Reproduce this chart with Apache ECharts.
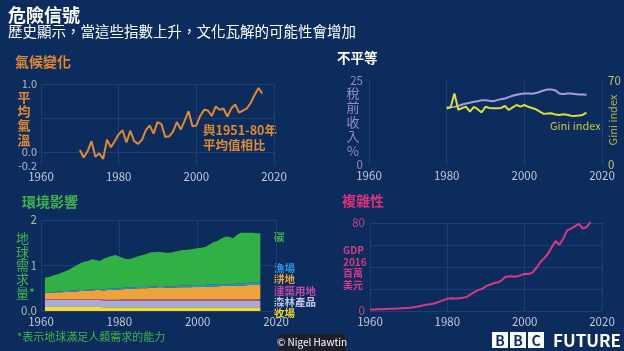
<!DOCTYPE html>
<html>
<head>
<meta charset="utf-8">
<title>危險信號</title>
<script src="https://cdn.jsdelivr.net/npm/echarts@6/dist/echarts.min.js"></script>
<style>
  html, body { margin: 0; padding: 0; background: #0c2c5e; }
  #chart { width: 624px; height: 351px; }
</style>
</head>
<body>
<div id="chart"></div>
<script>
const FONT = '"Noto Sans CJK TC", "Noto Sans", sans-serif'
const GRID_LINE = '#1f3f72'

// 氣候變化：與1951-80年平均值相比的氣溫差（1970-2017）
const climateStart = 1970
const climateAnomaly = [
  0.03, -0.08, 0.01, 0.16, -0.07, -0.02, -0.10, 0.18, 0.07, 0.16,
  0.26, 0.32, 0.14, 0.31, 0.16, 0.12, 0.18, 0.32, 0.39, 0.27,
  0.44, 0.41, 0.22, 0.23, 0.30, 0.44, 0.33, 0.46, 0.60, 0.38,
  0.39, 0.53, 0.62, 0.61, 0.53, 0.67, 0.62, 0.64, 0.52, 0.64,
  0.70, 0.58, 0.61, 0.64, 0.72, 0.84, 0.94, 0.86
]

// 不平等（1980-2016）
const inequalityStart = 1980
const pretaxShare = [
  17.2, 17.2, 17.3, 17.6, 18.0, 18.3, 18.5, 18.8, 19.0, 19.3,
  19.3, 19.1, 19.0, 19.3, 19.6, 19.8, 20.2, 20.6, 20.9, 21.1,
  21.3, 21.3, 21.2, 21.4, 21.8, 22.2, 22.5, 22.5, 22.2, 21.3,
  21.1, 21.3, 21.3, 21.1, 21.0, 21.0, 20.9
]
const giniIndex = [
  47.0, 48.0, 59.5, 46.0, 47.5, 48.5, 44.5, 48.5, 46.5, 43.8,
  48.5, 47.5, 47.3, 47.2, 47.5, 49.2, 45.8, 48.0, 50.0, 48.6,
  50.0, 48.5, 47.5, 46.4, 44.4, 42.6, 43.0, 43.1, 42.0, 41.7,
  42.2, 41.8, 41.0, 40.8, 41.2, 41.7, 43.6
]

// 環境影響：地球需求量（1961-2016），由下往上堆疊
const footprintStart = 1961
const grazing = [
  0.09, 0.09, 0.09, 0.09, 0.09, 0.09, 0.09, 0.09, 0.09, 0.09,
  0.09, 0.09, 0.09, 0.09, 0.09, 0.08, 0.08, 0.08, 0.08, 0.08,
  0.08, 0.08, 0.08, 0.08, 0.08, 0.08, 0.08, 0.08, 0.08, 0.08,
  0.08, 0.08, 0.08, 0.08, 0.08, 0.08, 0.08, 0.08, 0.08, 0.08,
  0.08, 0.08, 0.08, 0.08, 0.08, 0.08, 0.08, 0.08, 0.08, 0.08,
  0.08, 0.08, 0.08, 0.08, 0.08, 0.08
]
const forest = [
  0.15, 0.15, 0.15, 0.15, 0.15, 0.15, 0.15, 0.15, 0.15, 0.15,
  0.15, 0.15, 0.15, 0.15, 0.15, 0.15, 0.15, 0.15, 0.15, 0.15,
  0.15, 0.15, 0.15, 0.15, 0.15, 0.15, 0.15, 0.15, 0.15, 0.15,
  0.15, 0.15, 0.15, 0.15, 0.15, 0.15, 0.15, 0.15, 0.15, 0.15,
  0.15, 0.15, 0.15, 0.15, 0.15, 0.15, 0.15, 0.15, 0.15, 0.15,
  0.15, 0.15, 0.15, 0.15, 0.15, 0.15
]
const builtUp = [
  0.02, 0.02, 0.02, 0.02, 0.02, 0.02, 0.02, 0.02, 0.02, 0.02,
  0.02, 0.02, 0.02, 0.02, 0.02, 0.02, 0.02, 0.02, 0.02, 0.02,
  0.03, 0.03, 0.03, 0.03, 0.03, 0.03, 0.03, 0.03, 0.03, 0.03,
  0.03, 0.03, 0.03, 0.03, 0.03, 0.03, 0.03, 0.03, 0.03, 0.03,
  0.03, 0.03, 0.03, 0.03, 0.03, 0.03, 0.03, 0.03, 0.03, 0.03,
  0.03, 0.03, 0.03, 0.03, 0.03, 0.03
]
const cropland = [
  0.13, 0.14, 0.14, 0.15, 0.15, 0.16, 0.16, 0.17, 0.17, 0.18,
  0.18, 0.19, 0.19, 0.20, 0.20, 0.20, 0.21, 0.21, 0.22, 0.22,
  0.22, 0.23, 0.23, 0.23, 0.24, 0.24, 0.24, 0.25, 0.25, 0.26,
  0.26, 0.25, 0.25, 0.25, 0.26, 0.26, 0.26, 0.26, 0.27, 0.27,
  0.27, 0.27, 0.28, 0.28, 0.28, 0.29, 0.29, 0.29, 0.29, 0.30,
  0.30, 0.30, 0.31, 0.31, 0.31, 0.31
]
const fishing = [
  0.02, 0.02, 0.02, 0.02, 0.02, 0.02, 0.02, 0.02, 0.02, 0.02,
  0.02, 0.02, 0.02, 0.02, 0.02, 0.03, 0.03, 0.03, 0.03, 0.03,
  0.03, 0.03, 0.03, 0.03, 0.03, 0.03, 0.03, 0.03, 0.03, 0.03,
  0.03, 0.03, 0.03, 0.03, 0.03, 0.04, 0.04, 0.04, 0.04, 0.04,
  0.04, 0.04, 0.04, 0.04, 0.04, 0.04, 0.04, 0.04, 0.04, 0.04,
  0.05, 0.05, 0.05, 0.05, 0.05, 0.05
]
const carbon = [
  0.32, 0.33, 0.36, 0.37, 0.40, 0.43, 0.46, 0.50, 0.55, 0.59,
  0.62, 0.63, 0.67, 0.64, 0.62, 0.67, 0.69, 0.72, 0.73, 0.70,
  0.65, 0.62, 0.63, 0.66, 0.68, 0.70, 0.73, 0.75, 0.75, 0.75,
  0.74, 0.74, 0.74, 0.76, 0.77, 0.78, 0.78, 0.79, 0.80, 0.81,
  0.82, 0.84, 0.88, 0.93, 0.96, 1.00, 1.04, 1.04, 1.01, 1.07,
  1.11, 1.11, 1.10, 1.10, 1.09, 1.09
]

// 複雜性：GDP（1960-2017）
const gdpStart = 1960
const gdp = [
  1.37, 1.42, 1.53, 1.64, 1.80, 1.96, 2.13, 2.26, 2.44, 2.69,
  2.96, 3.27, 3.77, 4.59, 5.30, 5.90, 6.42, 7.26, 8.54, 9.93,
  11.2, 11.5, 11.3, 11.6, 12.1, 12.7, 15.1, 17.1, 19.2, 20.0,
  22.6, 23.9, 25.4, 25.9, 27.8, 30.9, 31.6, 31.4, 31.3, 32.6,
  33.8, 33.6, 34.9, 39.1, 44.1, 47.8, 51.8, 58.0, 63.6, 60.3,
  66.0, 73.3, 74.9, 77.2, 79.3, 75.0, 76.1, 80.9
]

const footprintLayers = [
  { name: '牧場', data: grazing, color: '#f3dc2a' },
  { name: '森林產品', data: forest, color: '#aaaad8' },
  { name: '建築用地', data: builtUp, color: '#d4507c' },
  { name: '耕地', data: cropland, color: '#eea23a' },
  { name: '漁場', data: fishing, color: '#2294da' },
  { name: '碳', data: carbon, color: '#31b145' }
]

const toPairs = (start, arr) => arr.map((v, i) => [start + i, v])
// 數值放第一欄，堆疊才會疊在 y 上
const toStackRows = (start, arr) => arr.map((v, i) => [v, start + i])

function yearAxis(gridIndex) {
  return {
    type: 'value',
    gridIndex: gridIndex,
    min: 1960,
    max: 2020,
    interval: 20,
    axisLine: { show: false },
    axisTick: { show: false },
    axisLabel: { color: '#c3c8d4', fontSize: 11.5, margin: 5, fontFamily: FONT, formatter: v => String(v) },
    splitLine: { show: true, lineStyle: { color: GRID_LINE, width: 1 } }
  }
}

function label(text, x, y, color, size, extra) {
  return {
    type: 'text',
    x: x,
    y: y,
    silent: true,
    style: Object.assign({
      text: text,
      fill: color,
      font: size + 'px ' + FONT,
      textAlign: 'left',
      textVerticalAlign: 'middle'
    }, extra || {})
  }
}

const chart = echarts.init(document.getElementById('chart'))

const option = {
  animation: false,
  backgroundColor: '#0c2c5e',
  textStyle: { fontFamily: FONT },
  grid: [
    { left: 41, top: 84, width: 233, height: 81.6 },
    { left: 369, top: 81, width: 233, height: 84 },
    { left: 41, top: 220, width: 235, height: 91 },
    { left: 370, top: 223, width: 232, height: 88 }
  ],
  xAxis: [yearAxis(0), yearAxis(1), yearAxis(2), yearAxis(3)],
  yAxis: [
    {
      type: 'value', gridIndex: 0, min: -0.2, max: 1, interval: 0.1,
      axisLine: { show: false }, axisTick: { show: false },
      axisLabel: {
        color: '#b4b9c6', fontSize: 11, margin: 4,
        formatter: v => Math.abs(v - 1) < 1e-6 ? '1.0' : Math.abs(v) < 1e-6 ? '0.0' : Math.abs(v + 0.2) < 1e-6 ? '-0.2' : ''
      },
      // 只在 0.0、0.5、1.0 顯示格線
      splitLine: { show: true, lineStyle: { color: ['transparent', 'transparent', GRID_LINE, 'transparent', 'transparent'] } }
    },
    {
      type: 'value', gridIndex: 1, min: 0, max: 25, interval: 25,
      axisLine: { show: false }, axisTick: { show: false },
      axisLabel: { color: '#958dc6', fontSize: 11.5, margin: 6 },
      splitLine: { show: false }
    },
    {
      type: 'value', gridIndex: 1, position: 'right', min: 0, max: 70, interval: 70,
      axisLine: { show: false }, axisTick: { show: false },
      axisLabel: { color: '#c4c46a', fontSize: 11.5, margin: 6 },
      splitLine: { show: false }
    },
    {
      type: 'value', gridIndex: 2, min: 0, max: 2, interval: 1,
      axisLine: { show: false }, axisTick: { show: false },
      axisLabel: { color: '#a4bea8', fontSize: 11.5, margin: 4, formatter: v => v === 0 ? '0.0' : String(v) },
      splitLine: { show: true, lineStyle: { color: GRID_LINE } }
    },
    {
      type: 'value', gridIndex: 3, min: 0, max: 80, interval: 20,
      axisLine: { show: false }, axisTick: { show: false },
      axisLabel: { color: '#c8457e', fontSize: 11.5, margin: 5, formatter: v => (v === 0 || v === 80) ? String(v) : '' },
      splitLine: { show: true, lineStyle: { color: GRID_LINE } }
    }
  ],
  series: [
    {
      name: '氣候變化', type: 'line', xAxisIndex: 0, yAxisIndex: 0,
      data: toPairs(climateStart, climateAnomaly),
      showSymbol: false, lineStyle: { color: '#e08a30', width: 2 }
    },
    {
      name: '稅前收入%', type: 'line', xAxisIndex: 1, yAxisIndex: 1,
      data: toPairs(inequalityStart, pretaxShare),
      showSymbol: false, lineStyle: { color: '#a79ce2', width: 2 }
    },
    {
      name: 'Gini index', type: 'line', xAxisIndex: 1, yAxisIndex: 2,
      data: toPairs(inequalityStart, giniIndex),
      showSymbol: false, lineStyle: { color: '#d7df3c', width: 2 }
    }
  ].concat(footprintLayers.map(layer => ({
    name: layer.name, type: 'line', xAxisIndex: 2, yAxisIndex: 3, stack: 'footprint',
    data: toStackRows(footprintStart, layer.data),
    encode: { x: 1, y: 0 },
    showSymbol: false,
    lineStyle: { width: 0 },
    areaStyle: { color: layer.color, opacity: 1 }
  }))).concat([
    {
      name: '複雜性', type: 'line', xAxisIndex: 3, yAxisIndex: 4,
      data: toPairs(gdpStart, gdp),
      showSymbol: false, lineStyle: { color: '#d83a80', width: 2 }
    }
  ]),
  graphic: [
    label('危險信號', 8, 15, '#ffffff', 18, { font: 'bold 18px ' + FONT }),
    label('歷史顯示，當這些指數上升，文化瓦解的可能性會增加', 8, 31.5, '#ffffff', 14.5),

    label('氣候變化', 15, 62, '#e08a30', 14, { font: 'bold 14px ' + FONT }),
    label('平\n均\n氣\n溫', 24, 89.5, '#e08a30', 13, { font: 'bold 13px ' + FONT, textAlign: 'center', textVerticalAlign: 'top', lineHeight: 14.4 }),
    label('與1951-80年\n平均值相比', 203, 122.5, '#e08a30', 12.5, { font: 'bold 12.5px ' + FONT, textVerticalAlign: 'top', lineHeight: 15 }),

    label('不平等', 337, 58, '#ffffff', 13.5, { font: 'bold 13.5px ' + FONT }),
    label('稅\n前\n收\n入\n%', 353, 85.8, '#958dc6', 13, { textAlign: 'center', textVerticalAlign: 'top', lineHeight: 14.5 }),
    label('Gini index', 550, 126, '#c8c840', 11),
    {
      type: 'text', x: 613, y: 120, rotation: Math.PI / 2, silent: true,
      style: { text: 'Gini index', fill: '#b4b440', font: '11px ' + FONT, textAlign: 'center', textVerticalAlign: 'middle' }
    },

    label('環境影響', 22, 202, '#3db54a', 14, { font: 'bold 14px ' + FONT }),
    label('地\n球\n需\n求\n量*', 16, 231, '#3db54a', 13, { textVerticalAlign: 'top', lineHeight: 13.8 }),
    label('碳', 274, 237, '#3db54a', 10.5, { font: 'bold 10.5px ' + FONT }),
    label('漁場', 274, 268, '#2a95e0', 10.5, { font: 'bold 10.5px ' + FONT }),
    label('耕地', 274, 279.5, '#f0a43a', 10.5, { font: 'bold 10.5px ' + FONT }),
    label('建築用地', 274, 291, '#c64aa4', 10.5, { font: 'bold 10.5px ' + FONT }),
    label('森林產品', 274, 302, '#c4c6e4', 10.5, { font: 'bold 10.5px ' + FONT }),
    label('牧場', 274, 313, '#f0d428', 10.5, { font: 'bold 10.5px ' + FONT }),
    label('*表示地球滿足人類需求的能力', 17, 337, '#3db54a', 11),

    label('複雜性', 342, 201, '#e0307a', 14, { font: 'bold 14px ' + FONT }),
    label('GDP\n2016\n百萬\n美元', 343, 244.5, '#d83a80', 10, { font: 'bold 10px ' + FONT, textVerticalAlign: 'top', lineHeight: 11.6 }),

    { type: 'rect', silent: true, shape: { x: 279, y: 334, width: 66, height: 17 }, style: { fill: '#1c1f2b' } },
    label('© Nigel Hawtin', 312, 342.5, '#ffffff', 10, { textAlign: 'center' }),

    { type: 'rect', silent: true, shape: { x: 492, y: 332, width: 16, height: 16 }, style: { fill: '#ffffff' } },
    { type: 'rect', silent: true, shape: { x: 510, y: 332, width: 16, height: 16 }, style: { fill: '#ffffff' } },
    { type: 'rect', silent: true, shape: { x: 528, y: 332, width: 16, height: 16 }, style: { fill: '#ffffff' } },
    label('B', 500, 340.5, '#0c2c5e', 14, { font: 'bold 14px ' + FONT, textAlign: 'center' }),
    label('B', 518, 340.5, '#0c2c5e', 14, { font: 'bold 14px ' + FONT, textAlign: 'center' }),
    label('C', 536, 340.5, '#0c2c5e', 14, { font: 'bold 14px ' + FONT, textAlign: 'center' }),
    label('FUTURE', 553, 340.5, '#ffffff', 17, { font: 'bold 17px ' + FONT })
  ]
}

chart.setOption(option)
</script>
</body>
</html>
